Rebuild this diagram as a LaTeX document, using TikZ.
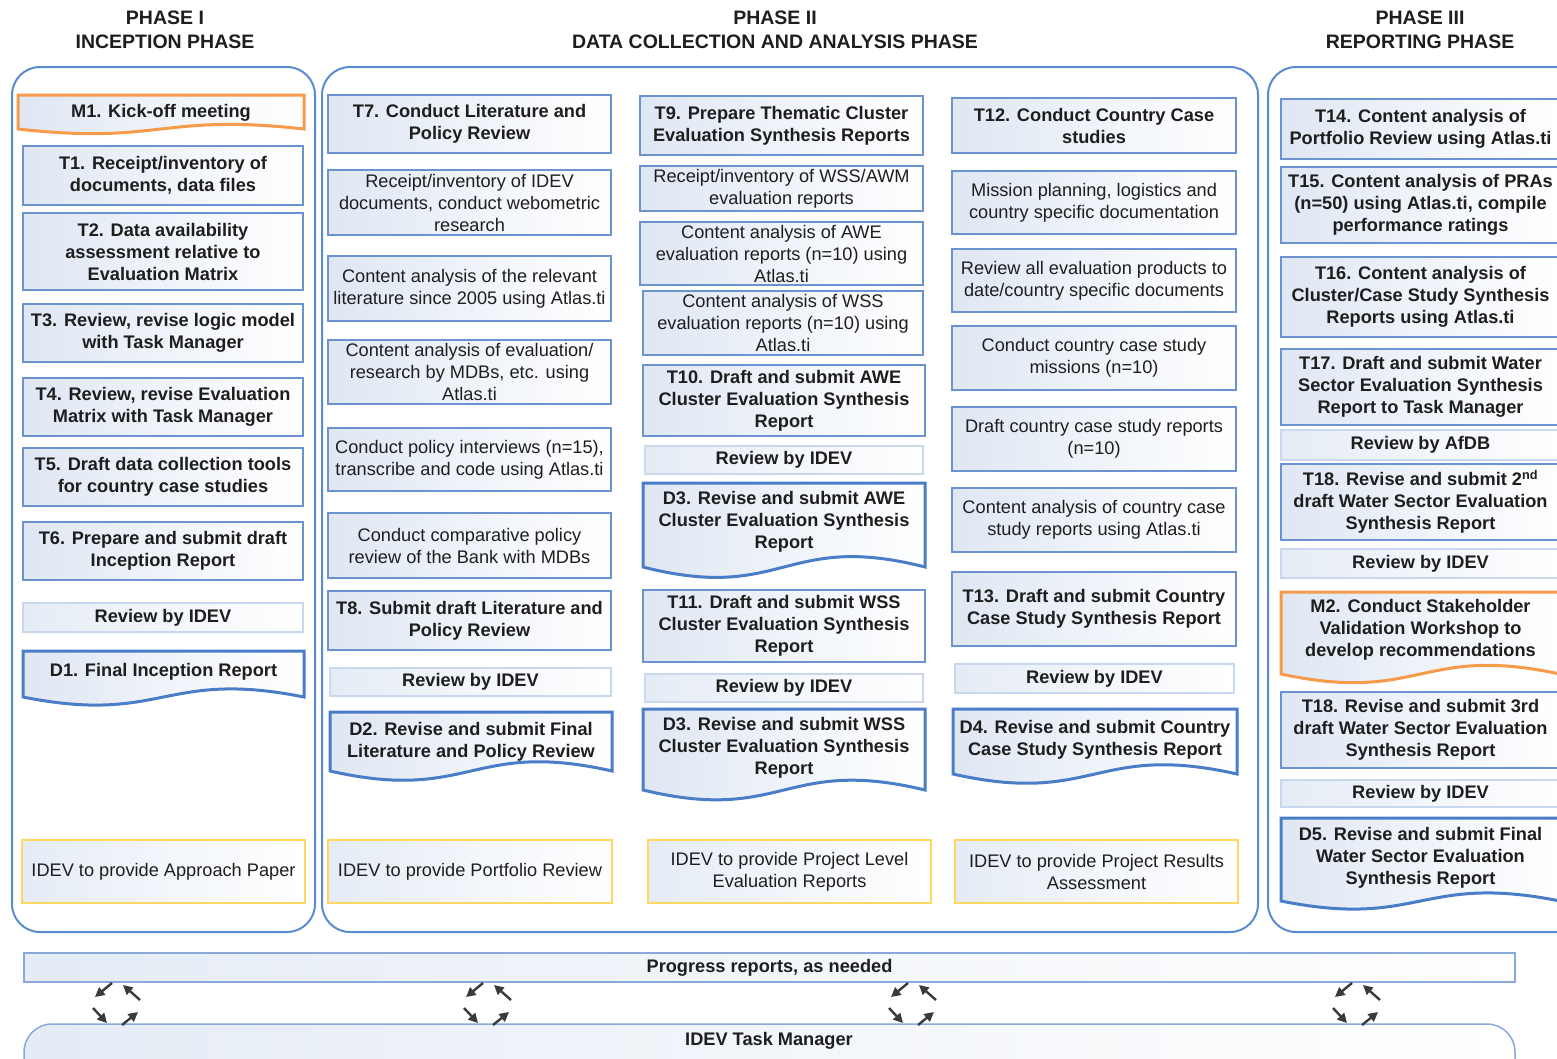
\documentclass[tikz,border=0pt]{standalone}
\usepackage{fontspec}
\setmainfont{Liberation Sans}
\usetikzlibrary{arrows.meta,calc}
\definecolor{contblue}{HTML}{5B8BD0}
\definecolor{boxblue}{HTML}{6A93D0}
\definecolor{docblue}{HTML}{4A7DC8}
\definecolor{revblue}{HTML}{C9D8EE}
\definecolor{fillblue}{HTML}{DFE7F3}
\definecolor{goldy}{HTML}{FFD862}
\definecolor{orangeb}{HTML}{F79A4A}
\definecolor{txt}{HTML}{1E1E1E}
\definecolor{arrg}{HTML}{3A3A3A}
\newcommand\fs{\fontsize{18.2}{22}\selectfont}
\newcommand\hfs{\fontsize{19.5}{24}\selectfont}
\newcommand\mybox[7]{\node[#6, minimum width={#4-#2}, minimum height={#5-#3}] (#1) at ({(#2+#4)/2},{(#3+#5)/2}) {#7};}
\newcommand\mydoc[9]{%
  \path[#7] (#2,#3) -- (#4,#3) -- (#4,#5) .. controls ({(#2+#4)/2},{#5-#6}) and ({(#2+#4)/2},{#5+#6}) .. (#2,#5) -- cycle;
  \node[doctext, anchor=north] (#1) at ({(#2+#4)/2},{#3+#9}) {#8};}
\newcommand\cyc[3]{%
  \coordinate (#1) at (#2,#3);
  \draw[cycarrow] ($(#1)+(-5,-22)$) -- ($(#1)+(-22,-8)$);
  \draw[cycarrow] ($(#1)+(23,-5)$) -- ($(#1)+(6,-20)$);
  \draw[cycarrow] ($(#1)+(-24,3)$) -- ($(#1)+(-10,18)$);
  \draw[cycarrow] ($(#1)+(5,20)$) -- ($(#1)+(21,7)$);}
\tikzset{
  cont/.style={draw=contblue, line width=2, rounded corners=28},
  tbox/.style={draw=boxblue, line width=1.6, left color=fillblue, right color=white, font=\bfseries\fs, text=txt, align=center, inner sep=0},
  sbox/.style={draw=boxblue, line width=1.6, left color=fillblue, right color=white, font=\fs, text=txt, align=center, inner sep=0},
  rbox/.style={draw=revblue, line width=1.5, left color=fillblue!80, right color=white, font=\bfseries\fs, text=txt, align=center, inner sep=0},
  ybox/.style={draw=goldy, line width=2, left color=fillblue!80, right color=white, font=\fs, text=txt, align=center, inner sep=0},
  pbar/.style={draw=boxblue!80, line width=1.5, left color=fillblue!80, right color=white, font=\bfseries\fs, text=txt, align=center, inner sep=0},
  docb/.style={draw=docblue, line width=3, left color=fillblue, right color=white},
  doco/.style={draw=orangeb, line width=3, left color=fillblue, right color=white},
  doctext/.style={font=\bfseries\fs, text=txt, align=center, inner sep=2},
  hdr/.style={font=\bfseries\hfs, text=txt, align=center, inner sep=0},
  cycarrow/.style={draw=arrg, line width=2.4, -{Triangle[length=9.5,width=9.5]}},
}
\begin{document}
\begin{tikzpicture}[x=1pt,y=-1pt]
\useasboundingbox (0,0) rectangle (1557,1058);
\clip (0,0) rectangle (1557,1058);
% headers
\node[hdr] (h1) at (165,30) {PHASE I\\INCEPTION PHASE};
\node[hdr] (h2) at (775,30) {PHASE II\\DATA COLLECTION AND ANALYSIS PHASE};
\node[hdr] (h3) at (1420,30) {PHASE III\\REPORTING PHASE};
% containers
\mybox{p1}{12}{67}{315}{932}{cont}{}
\mybox{p2}{322}{67}{1258}{932}{cont}{}
\mybox{p3}{1268}{67}{1600}{932}{cont}{}
% column 1
\mydoc{m1}{18}{95}{304}{129}{16}{doco}{M1. Kick-off meeting}{7}
\mybox{t1}{23}{146}{303}{205}{tbox}{T1. Receipt/inventory of\\documents, data files}
\mybox{t2}{23}{213}{303}{290}{tbox}{T2. Data availability\\assessment relative to\\Evaluation Matrix}
\mybox{t3}{23}{304}{303}{362}{tbox}{T3. Review, revise logic model\\with Task Manager}
\mybox{t4}{23}{378}{303}{436}{tbox}{T4. Review, revise Evaluation\\Matrix with Task Manager}
\mybox{t5}{23}{448}{303}{506}{tbox}{T5. Draft data collection tools\\for country case studies}
\mybox{t6}{23}{522}{303}{580}{tbox}{T6. Prepare and submit draft\\Inception Report}
\mybox{r1}{23}{603}{303}{632}{rbox}{Review by IDEV}
\mydoc{d1}{23}{651}{304}{697}{28}{docb}{D1. Final Inception Report}{10}
\mybox{y1}{22}{840}{305}{903}{ybox}{IDEV to provide Approach Paper}
% column 2
\mybox{t7}{328}{95}{611}{153}{tbox}{T7. Conduct Literature and\\Policy Review}
\mybox{c2a}{328}{170}{611}{235}{sbox}{Receipt/inventory of IDEV\\documents, conduct webometric\\research}
\mybox{c2b}{328}{256}{611}{321}{sbox}{Content analysis of the relevant\\literature since 2005 using Atlas.ti}
\mybox{c2c}{328}{340}{611}{404}{sbox}{Content analysis of evaluation/\\research by MDBs, etc. using\\Atlas.ti}
\mybox{c2d}{328}{428}{611}{491}{sbox}{Conduct policy interviews (n=15),\\transcribe and code using Atlas.ti}
\mybox{c2e}{328}{513}{611}{578}{sbox}{Conduct comparative policy\\review of the Bank with MDBs}
\mybox{t8}{328}{591}{611}{650}{tbox}{T8. Submit draft Literature and\\Policy Review}
\mybox{r2}{330}{668}{611}{696}{rbox}{Review by IDEV}
\mydoc{d2}{330}{712}{612}{771}{32}{docb}{D2. Revise and submit Final\\Literature and Policy Review}{8}
\mybox{y2}{328}{840}{612}{903}{ybox}{IDEV to provide Portfolio Review}
% column 3
\mybox{t9}{640}{96}{923}{155}{tbox}{T9. Prepare Thematic Cluster\\Evaluation Synthesis Reports}
\mybox{c3a}{640}{166}{923}{211}{sbox}{Receipt/inventory of WSS/AWM\\evaluation reports}
\mybox{c3b}{640}{222}{923}{285}{sbox}{Content analysis of AWE\\evaluation reports (n=10) using\\Atlas.ti}
\mybox{c3c}{643}{291}{923}{355}{sbox}{Content analysis of WSS\\evaluation reports (n=10) using\\Atlas.ti}
\mybox{t10}{643}{365}{925}{436}{tbox}{T10. Draft and submit AWE\\Cluster Evaluation Synthesis\\Report}
\mybox{r3a}{645}{446}{923}{474}{rbox}{Review by IDEV}
\mydoc{d3a}{643}{483}{925}{567}{36}{docb}{D3. Revise and submit AWE\\Cluster Evaluation Synthesis\\Report}{6}
\mybox{t11}{643}{590}{925}{662}{tbox}{T11. Draft and submit WSS\\Cluster Evaluation Synthesis\\Report}
\mybox{r3b}{645}{674}{923}{702}{rbox}{Review by IDEV}
\mydoc{d3b}{643}{709}{925}{790}{34}{docb}{D3. Revise and submit WSS\\Cluster Evaluation Synthesis\\Report}{6}
\mybox{y3}{648}{840}{931}{903}{ybox}{IDEV to provide Project Level\\Evaluation Reports}
% column 4
\mybox{t12}{952}{98}{1236}{153}{tbox}{T12. Conduct Country Case\\studies}
\mybox{c4a}{952}{171}{1236}{234}{sbox}{Mission planning, logistics and\\country specific documentation}
\mybox{c4b}{952}{249}{1236}{312}{sbox}{Review all evaluation products to\\date/country specific documents}
\mybox{c4c}{952}{326}{1236}{390}{sbox}{Conduct country case study\\missions (n=10)}
\mybox{c4d}{952}{407}{1236}{471}{sbox}{Draft country case study reports\\(n=10)}
\mybox{c4e}{952}{488}{1236}{552}{sbox}{Content analysis of country case\\study reports using Atlas.ti}
\mybox{t13}{952}{572}{1236}{646}{tbox}{T13. Draft and submit Country\\Case Study Synthesis Report}
\mybox{r4}{955}{664}{1234}{693}{rbox}{Review by IDEV}
\mydoc{d4}{953}{709}{1237}{774}{32}{docb}{D4. Revise and submit Country\\Case Study Synthesis Report}{9}
\mybox{y4}{955}{840}{1238}{903}{ybox}{IDEV to provide Project Results\\Assessment}
% column 5
\mybox{t14}{1281}{99}{1560}{159}{tbox}{T14. Content analysis of\\Portfolio Review using Atlas.ti}
\mybox{t15}{1281}{167}{1560}{243}{tbox}{T15. Content analysis of PRAs\\(n=50) using Atlas.ti, compile\\performance ratings}
\mybox{t16}{1281}{257}{1560}{337}{tbox}{T16. Content analysis of\\Cluster/Case Study Synthesis\\Reports using Atlas.ti}
\mybox{t17}{1281}{349}{1560}{425}{tbox}{T17. Draft and submit Water\\Sector Evaluation Synthesis\\Report to Task Manager}
\mybox{r5a}{1281}{430}{1560}{460}{rbox}{Review by AfDB}
\mybox{t18a}{1281}{464}{1560}{540}{tbox}{T18. Revise and submit 2\textsuperscript{nd}\\draft Water Sector Evaluation\\Synthesis Report}
\mybox{r5b}{1281}{549}{1560}{578}{rbox}{Review by IDEV}
\mydoc{m2}{1281}{592}{1560}{674}{30}{doco}{M2. Conduct Stakeholder\\Validation Workshop to\\develop recommendations}{5}
\mybox{t18b}{1281}{692}{1560}{768}{tbox}{T18. Revise and submit 3rd\\draft Water Sector Evaluation\\Synthesis Report}
\mybox{r5c}{1281}{780}{1560}{807}{rbox}{Review by IDEV}
\mydoc{d5}{1281}{818}{1560}{901}{28}{docb}{D5. Revise and submit Final\\Water Sector Evaluation\\Synthesis Report}{7}
% bottom
\mybox{prog}{24}{953}{1515}{982}{pbar}{Progress reports, as needed}
\path[draw=boxblue!80, line width=1.5, left color=fillblue!80, right color=white, rounded corners=28] (24,1024) rectangle (1515,1090);
\node[font=\bfseries\fs, text=txt, inner sep=0] (tm) at (769,1041) {IDEV Task Manager};
\cyc{a1}{117}{1005}
\cyc{a2}{488}{1005}
\cyc{a3}{913}{1005}
\cyc{a4}{1357}{1005}
\end{tikzpicture}
\end{document}
